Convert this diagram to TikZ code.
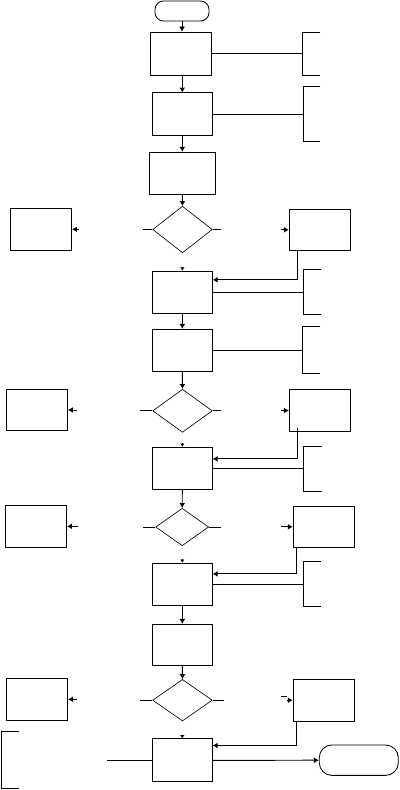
\documentclass[tikz,border=0pt]{standalone}
\usetikzlibrary{positioning,shapes.geometric,arrows.meta,calc}

\tikzset{
  procbox/.style={draw, line width=0.6pt, minimum width=1.5cm, minimum height=1.05cm, inner sep=0pt},
  sidebox/.style={draw, line width=0.6pt, minimum width=1.53cm, minimum height=1.04cm, inner sep=0pt},
  decision/.style={draw, diamond, line width=0.45pt, inner sep=0pt, minimum width=1.49cm},
  terminal/.style={draw, line width=0.6pt, inner sep=0pt},
  flow/.style={line width=0.7pt, -{Latex[length=3.5pt,width=4.2pt]}},
  tipmark/.style={line width=0.6pt, -{Latex[length=2.4pt,width=3.2pt]}},
  link/.style={line width=0.7pt},
  note/.style={line width=0.7pt}
}

\begin{document}
\begin{tikzpicture}[x=0.025cm, y=-0.025cm]

\useasboundingbox (0,0) rectangle (400,790);

% main column
\node[terminal, rounded corners=6pt, minimum width=1.35cm, minimum height=0.5cm] (start) at (182,11) {};
\node[procbox, minimum width=1.525cm, minimum height=1.075cm] (p1) at (180.8,53.5) {};
\node[procbox, minimum height=1.07cm] (p2) at (182.3,114.3) {};
\node[procbox, minimum width=1.65cm] (p3) at (182.3,173.2) {};
\node[decision, minimum height=1.165cm] (d1) at (182.5,229.5) {};
\node[procbox] (p4) at (182.3,292.2) {};
\node[procbox] (p5) at (182.3,350.3) {};
\node[decision, minimum height=1.075cm] (d2) at (182.5,410.8) {};
\node[procbox] (p6) at (182.3,468.3) {};
\node[decision, minimum width=1.325cm, minimum height=0.935cm] (d3) at (182.2,527) {};
\node[procbox] (p7) at (182.3,584.3) {};
\node[procbox, minimum height=1.025cm] (p8) at (182.3,644.8) {};
\node[decision, minimum height=1.04cm] (d4) at (182.5,700.2) {};
\node[procbox, minimum height=1.07cm] (p9) at (182.3,760.3) {};
\node[terminal, rounded corners=9pt, minimum width=1.975cm, minimum height=0.76cm] (stop) at (358.8,760.2) {};

% side boxes
\node[sidebox] (l1) at (41,229.3) {};
\node[sidebox] (r1) at (319.8,229.8) {};
\node[sidebox] (l2) at (37,410) {};
\node[sidebox] (r2) at (319.8,410.5) {};
\node[sidebox] (l3) at (36,526.3) {};
\node[sidebox] (r3) at (323.8,526.8) {};
\node[sidebox] (l4) at (37,699.3) {};
\node[sidebox] (r4) at (323.8,700.2) {};

% bracket notes
\foreach \sx/\ya/\yb/\ex in {302/32/75/320, 303/86/141/320, 303.3/269.3/314/320.7,
    302.3/326.3/373.7/320, 303.3/446.3/491.3/321.7, 303.3/561.3/606.3/320.7, 1.7/731.3/788.3/19}
  \draw[note] (\ex,\ya) -- (\sx,\ya) -- (\sx,\yb) -- (\ex,\yb);

\coordinate (n1) at (302,53.5);
\coordinate (n2) at (303,114.3);
\coordinate (n3) at (303.3,292.2);
\coordinate (n4) at (302.3,350.3);
\coordinate (n5) at (303.3,468.3);
\coordinate (n6) at (303.3,584.3);

\draw[link] (p1.east) -- (n1);
\draw[link] (p2.east) -- (n2);
\draw[link] (p4.east) -- (n3);
\draw[link] (p5.east) -- (n4);
\draw[link] (p6.east) -- (n5);
\draw[link] (p7.east) -- (n6);

% main flow
\draw[flow] (start.south) -- (start.south |- p1.north);
\draw[flow] (p2.north |- p1.south) -- (p2.north);
\draw[flow] (p2) -- (p3);
\draw[flow] (p3) -- (d1);
\draw[flow] (p4) -- (p5);
\draw[flow] (p5) -- (d2);
\draw[flow] (p6) -- (d3);
\draw[flow] (p7) -- (p8);
\draw[flow] (p8) -- (d4);
\draw[flow] (p9) -- (stop);
\draw[link] (p9.west) -- ++(-45.3,0);

\draw[tipmark] ($(p4.north)+(0,-3.5)$) -- (p4.north);
\draw[tipmark] ($(p6.north)+(0,-3.5)$) -- (p6.north);
\draw[tipmark] ($(p7.north)+(0,-3.5)$) -- (p7.north);
\draw[tipmark] ($(p9.north)+(0,-3.5)$) -- (p9.north);

% decision stubs
\draw[link] (d1.west) -- ++(-9.4,0);
\draw[link] (d1.east) -- ++(8.4,0);
\draw[link] (d2.west) -- ++(-12.4,0);
\draw[link] (d2.east) -- ++(8.4,0);
\draw[link] (d3.west) -- ++(-12.4,0);
\draw[link] (d3.east) -- ++(12,0);
\draw[link] (d4.west) -- ++(-12.4,0);
\draw[link] (d4.east) -- ++(11.4,0);

% arrows into side boxes
\draw[flow] ($(l1.east)+(7,0)$) -- (l1.east);
\draw[flow] ($(l2.east)+(9,0)$) -- (l2.east);
\draw[flow] ($(l3.east)+(11,0)$) -- (l3.east);
\draw[flow] ($(l4.east)+(9,0)$) -- (l4.east);
\draw[flow] ($(r1.west)+(-7.6,0)$) -- (r1.west);
\draw[flow] ($(r2.west)+(-7.6,0)$) -- (r2.west);
\draw[flow] ($(r3.west)+(-11.6,0)$) -- (r3.west);
\draw[flow] ($(r4.west)+(-6,0)$) -- (r4.west);
\draw[link] ($(r4.west)+(-11.6,-4.2)$) -- ++(5.6,0);

% returns from the right boxes
\draw[flow] ($(r1.south west)+(9,0)$) |- ($(p4.north east)+(0,9)$);
\draw[flow] ($(r2.south west)+(9,-3.4)$) |- ($(p6.north east)+(0,12)$);
\draw[flow] ($(r3.south west)+(3.4,0)$) |- ($(p7.north east)+(0,11)$);
\draw[flow] ($(r4.south west)+(4,0)$) |- ($(p9.north east)+(0,7)$);

\end{tikzpicture}
\end{document}
